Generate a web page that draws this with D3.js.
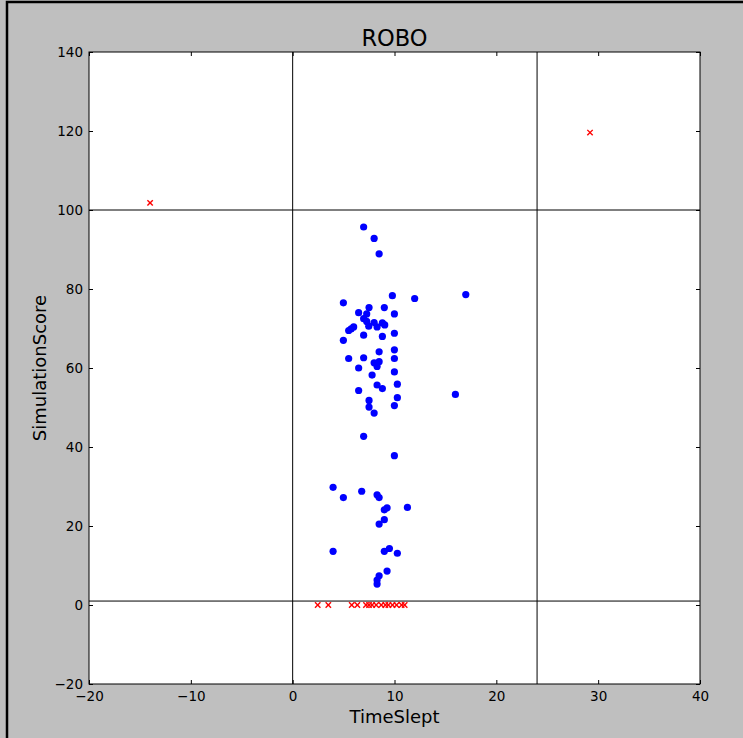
<!DOCTYPE html>
<html><head><meta charset="utf-8">
<script src="https://cdn.jsdelivr.net/npm/d3@7"></script>
<style>body{margin:0;background:#bfbfbf;} svg{display:block;} text{font-family:"DejaVu Sans",sans-serif;fill:#000;}</style>
</head><body>
<script>
const title = "ROBO";
const xLabel = "TimeSlept";
const yLabel = "SimulationScore";
const xTicks = [-20,-10,0,10,20,30,40];
const yTicks = [-20,0,20,40,60,80,100,120,140];
const vLines = [0,24];
const hLines = [1,100];
const blueX = [6.97,8.0,8.49,9.79,11.98,17.0,4.98,6.48,7.5,9.0,7.27,9.99,6.97,7.27,8.0,8.81,7.47,8.29,9.04,5.99,5.74,5.5,6.97,8.81,9.99,4.98,9.99,8.49,5.5,6.97,9.99,8.0,8.49,8.29,6.48,9.99,7.8,10.28,8.29,8.81,6.48,15.98,10.28,7.5,9.99,7.5,8.0,6.97,9.99,3.97,6.78,4.98,8.29,8.49,11.27,9.0,9.27,9.0,8.49,3.97,9.0,9.5,10.28,9.27,8.49,8.29,8.29];
const blueY = [95.7,92.8,88.9,78.3,77.6,78.6,76.5,74.0,75.3,75.3,73.7,73.7,72.5,71.8,71.5,71.4,70.6,70.4,70.9,70.4,69.9,69.5,68.3,68.0,68.8,67.0,64.6,64.1,62.4,62.6,62.4,61.3,61.6,60.4,60.0,59.0,58.2,55.9,55.7,54.8,54.3,53.3,52.5,51.8,50.5,50.1,48.6,42.7,37.8,29.8,28.8,27.2,27.9,27.2,24.7,24.1,24.6,21.6,20.5,13.6,13.6,14.3,13.1,8.6,7.4,6.3,5.3];
const redX = [2.46,3.5,5.8,6.35,7.2,7.5,7.8,8.2,8.7,9.1,9.4,9.8,10.2,10.7,11.0,-14.0,29.2];
const redY = [0,0,0,0,0,0,0,0,0,0,0,0,0,0,0,101.8,119.6];

const W=743,H=738;
const svg=d3.select("body").append("svg").attr("width",W).attr("height",H);
svg.append("rect").attr("x",7).attr("y",2).attr("width",W+20).attr("height",H+20).attr("fill","#bfbfbf").attr("stroke","#000").attr("stroke-width",2.5);
const L=89,R=700,T=52,B=684;
const x=d3.scaleLinear().domain([-20,40]).range([L,R]);
const y=d3.scaleLinear().domain([-20,140]).range([B,T]);
svg.append("rect").attr("x",L).attr("y",T).attr("width",R-L).attr("height",B-T).attr("fill","#fff");

const g=svg.append("g");
g.selectAll(".vl").data(vLines).enter().append("line").attr("x1",d=>x(d)).attr("x2",d=>x(d)).attr("y1",T).attr("y2",B).attr("stroke","#000").attr("stroke-width",1);
g.selectAll(".hl").data(hLines).enter().append("line").attr("y1",d=>y(d)).attr("y2",d=>y(d)).attr("x1",L).attr("x2",R).attr("stroke","#000").attr("stroke-width",1);

const ax=(gen,tr)=>svg.append("g").attr("transform",tr).call(gen);
const fmt=d=>d<0?"\u2212"+Math.abs(d):""+d;
const xb=ax(d3.axisBottom(x).tickValues(xTicks).tickSize(-4).tickPadding(7).tickFormat(fmt),`translate(0,${B})`);
const xt=ax(d3.axisTop(x).tickValues(xTicks).tickSize(-4).tickFormat(""),`translate(0,${T})`);
const yl=ax(d3.axisLeft(y).tickValues(yTicks).tickSize(-4).tickPadding(6).tickFormat(fmt),`translate(${L},0)`);
const yr=ax(d3.axisRight(y).tickValues(yTicks).tickSize(-4).tickFormat(""),`translate(${R},0)`);
[xb,xt,yl,yr].forEach(a=>{a.select(".domain").remove();a.selectAll("line").attr("stroke","#000");a.selectAll("text").style("font-size","13.5px").style("font-family","DejaVu Sans").attr("fill","#111");});
svg.append("rect").attr("x",L).attr("y",T).attr("width",R-L).attr("height",B-T).attr("fill","none").attr("stroke","#000").attr("stroke-width",1);

const blue=blueX.map((v,i)=>({x:v,y:blueY[i]}));
svg.append("g").selectAll("circle").data(blue).enter().append("circle").attr("cx",d=>x(d.x)).attr("cy",d=>y(d.y)).attr("r",3.6).attr("fill","#0000ff");
const red=redX.map((v,i)=>({x:v,y:redY[i]}));
const s=2.7;
const rg=svg.append("g").attr("stroke","#ff0000").attr("stroke-width",1.4);
red.forEach(d=>{const cx=x(d.x),cy=y(d.y);
 rg.append("line").attr("x1",cx-s).attr("y1",cy-s).attr("x2",cx+s).attr("y2",cy+s);
 rg.append("line").attr("x1",cx-s).attr("y1",cy+s).attr("x2",cx+s).attr("y2",cy-s);});

svg.append("text").attr("x",(L+R)/2).attr("y",46).attr("text-anchor","middle").style("font-size","22.5px").attr("fill","#111").text(title);
svg.append("text").attr("x",(L+R)/2).attr("y",723).attr("text-anchor","middle").style("font-size","18px").attr("fill","#111").text(xLabel);
svg.append("text").attr("transform",`translate(46,${(T+B)/2}) rotate(-90)`).attr("text-anchor","middle").style("font-size","18px").attr("fill","#111").text(yLabel);
</script>
</body></html>
